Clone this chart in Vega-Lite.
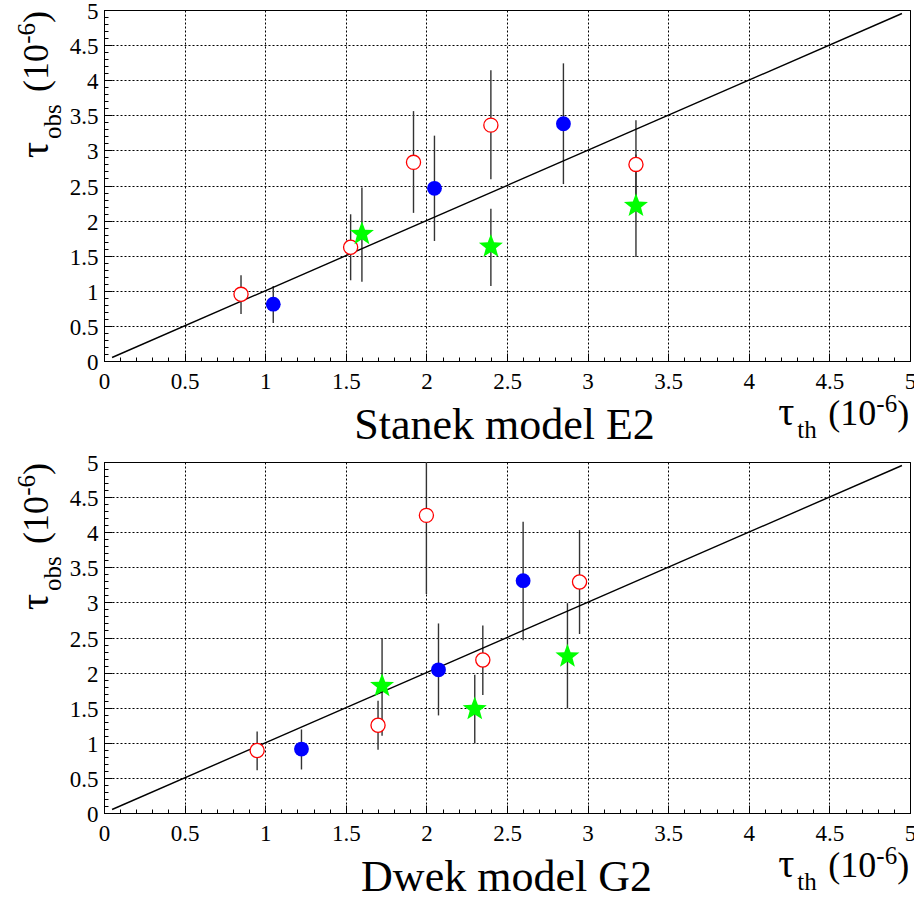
{
  "$schema": "https://vega.github.io/schema/vega-lite/v6.json",
  "background": "white",
  "padding": {"left": 13, "top": 0, "right": 0, "bottom": 0},
  "autosize": {"type": "pad"},
  "spacing": 101,
  "bounds": "flush",
  "datasets": {
    "stanek": [
      {"kind": "red", "th": 0.85, "obs": 0.95, "lo": 0.67, "hi": 1.22},
      {"kind": "red", "th": 1.53, "obs": 1.62, "lo": 1.15, "hi": 2.09},
      {"kind": "red", "th": 1.92, "obs": 2.83, "lo": 2.11, "hi": 3.56},
      {"kind": "red", "th": 2.40, "obs": 3.36, "lo": 2.59, "hi": 4.14},
      {"kind": "red", "th": 3.30, "obs": 2.80, "lo": 2.17, "hi": 3.43},
      {"kind": "blue", "th": 1.05, "obs": 0.81, "lo": 0.54, "hi": 1.07},
      {"kind": "blue", "th": 2.05, "obs": 2.46, "lo": 1.71, "hi": 3.21},
      {"kind": "blue", "th": 2.85, "obs": 3.38, "lo": 2.52, "hi": 4.24},
      {"kind": "green", "th": 1.60, "obs": 1.81, "lo": 1.13, "hi": 2.47},
      {"kind": "green", "th": 2.40, "obs": 1.63, "lo": 1.07, "hi": 2.17},
      {"kind": "green", "th": 3.30, "obs": 2.21, "lo": 1.48, "hi": 2.94}
    ],
    "dwek": [
      {"kind": "red", "th": 0.95, "obs": 0.89, "lo": 0.61, "hi": 1.16},
      {"kind": "red", "th": 1.70, "obs": 1.25, "lo": 0.90, "hi": 1.60},
      {"kind": "red", "th": 2.00, "obs": 4.24, "lo": 3.12, "hi": 5.0},
      {"kind": "red", "th": 2.35, "obs": 2.18, "lo": 1.68, "hi": 2.67},
      {"kind": "red", "th": 2.95, "obs": 3.29, "lo": 2.55, "hi": 4.03},
      {"kind": "blue", "th": 1.225, "obs": 0.91, "lo": 0.62, "hi": 1.19},
      {"kind": "blue", "th": 2.075, "obs": 2.04, "lo": 1.39, "hi": 2.70},
      {"kind": "blue", "th": 2.60, "obs": 3.31, "lo": 2.46, "hi": 4.15},
      {"kind": "green", "th": 1.725, "obs": 1.81, "lo": 1.10, "hi": 2.49},
      {"kind": "green", "th": 2.30, "obs": 1.48, "lo": 0.99, "hi": 1.97},
      {"kind": "green", "th": 2.875, "obs": 2.23, "lo": 1.49, "hi": 2.99}
    ],
    "diag": [{"t": 0.05}, {"t": 4.95}]
  },
  "vconcat": [
    {
      "width": 806,
      "height": 351,
      "resolve": {"axis": {"x": "independent", "y": "independent"}},
      "layer": [
        {
          "data": {"name": "stanek"},
          "transform": [{"filter": "datum.kind === 'red'"}],
          "mark": {"type": "rule", "color": "#333333", "strokeWidth": 1.4},
          "encoding": {
            "x": {"field": "th", "type": "quantitative", "scale": {"domain": [0, 5], "nice": false, "zero": false},
              "axis": {"orient": "bottom", "values": [0, 0.5, 1, 1.5, 2, 2.5, 3, 3.5, 4, 4.5, 5], "format": "~g",
                "grid": true, "gridDash": [2, 2], "gridColor": "black", "gridOpacity": 1, "gridWidth": 1,
                "ticks": false, "domain": true, "domainColor": "black", "domainWidth": 1,
                "labelFontSize": 23, "labelPadding": 9, "labelFlush": false, "labelOverlap": false, "labelBound": false,
                "title": "Stanek model E2", "titleFontSize": 44, "titleX": 400, "titleY": 77, "titleAlign": "center", "titleAngle": 0}},
            "y": {"field": "lo", "type": "quantitative", "scale": {"domain": [0, 5], "nice": false, "zero": false},
              "axis": {"orient": "left", "values": [0, 0.5, 1, 1.5, 2, 2.5, 3, 3.5, 4, 4.5, 5], "format": "~g",
                "grid": true, "gridDash": [2, 2], "gridColor": "black", "gridOpacity": 1, "gridWidth": 1,
                "ticks": false, "domain": true, "domainColor": "black", "domainWidth": 1,
                "labelFontSize": 23, "labelPadding": 6, "labelOffset": 1.5, "labelFlush": false, "labelOverlap": false, "labelBound": false,
                "title": null}},
            "y2": {"field": "hi"}
          }
        },
        {
          "data": {"name": "stanek"},
          "transform": [{"filter": "datum.kind === 'blue'"}],
          "mark": {"type": "rule", "color": "#333333", "strokeWidth": 1.4},
          "encoding": {
            "x": {"field": "th", "type": "quantitative", "scale": {"domain": [0, 5], "nice": false, "zero": false},
              "axis": {"orient": "bottom", "values": [0,0.1,0.2,0.3,0.4,0.5,0.6,0.7,0.8,0.9,1,1.1,1.2,1.3,1.4,1.5,1.6,1.7,1.8,1.9,2,2.1,2.2,2.3,2.4,2.5,2.6,2.7,2.8,2.9,3,3.1,3.2,3.3,3.4,3.5,3.6,3.7,3.8,3.9,4,4.1,4.2,4.3,4.4,4.5,4.6,4.7,4.8,4.9,5],
                "labels": false, "grid": false, "domain": false, "ticks": true, "tickSize": -4, "tickColor": "black", "tickWidth": 1,
                "title": "τ", "titleFontSize": 40, "titleX": 673.7, "titleY": 63, "titleAlign": "left", "titleAngle": 0}},
            "y": {"field": "lo", "type": "quantitative", "scale": {"domain": [0, 5], "nice": false, "zero": false},
              "axis": {"orient": "left", "values": [0,0.1,0.2,0.3,0.4,0.5,0.6,0.7,0.8,0.9,1,1.1,1.2,1.3,1.4,1.5,1.6,1.7,1.8,1.9,2,2.1,2.2,2.3,2.4,2.5,2.6,2.7,2.8,2.9,3,3.1,3.2,3.3,3.4,3.5,3.6,3.7,3.8,3.9,4,4.1,4.2,4.3,4.4,4.5,4.6,4.7,4.8,4.9,5],
                "labels": false, "grid": false, "domain": false, "ticks": true, "tickSize": -4, "tickColor": "black", "tickWidth": 1,
                "title": "τ", "titleFontSize": 40, "titleX": -57, "titleY": 147.5, "titleAlign": "left", "titleAngle": 270}},
            "y2": {"field": "hi"}
          }
        },
        {
          "data": {"name": "stanek"},
          "transform": [{"filter": "datum.kind === 'green'"}],
          "mark": {"type": "rule", "color": "#333333", "strokeWidth": 1.4},
          "encoding": {
            "x": {"field": "th", "type": "quantitative", "scale": {"domain": [0, 5], "nice": false, "zero": false},
              "axis": {"orient": "bottom", "values": [0, 0.5, 1, 1.5, 2, 2.5, 3, 3.5, 4, 4.5, 5],
                "labels": false, "grid": false, "domain": false, "ticks": true, "tickSize": -8, "tickColor": "black", "tickWidth": 1,
                "title": "th", "titleFontSize": 25, "titleX": 692.7, "titleY": 76, "titleAlign": "left", "titleAngle": 0}},
            "y": {"field": "lo", "type": "quantitative", "scale": {"domain": [0, 5], "nice": false, "zero": false},
              "axis": {"orient": "left", "values": [0, 0.5, 1, 1.5, 2, 2.5, 3, 3.5, 4, 4.5, 5],
                "labels": false, "grid": false, "domain": false, "ticks": true, "tickSize": -8, "tickColor": "black", "tickWidth": 1,
                "title": "obs", "titleFontSize": 25, "titleX": -44, "titleY": 128.5, "titleAlign": "left", "titleAngle": 270}},
            "y2": {"field": "hi"}
          }
        },
        {
          "data": {"name": "diag"},
          "mark": {"type": "line", "color": "black", "strokeWidth": 1.4},
          "encoding": {
            "x": {"field": "t", "type": "quantitative", "scale": {"domain": [0, 5], "nice": false, "zero": false},
              "axis": {"orient": "bottom", "labels": false, "grid": false, "domain": false, "ticks": false,
                "title": "(10", "titleFontSize": 36, "titleX": 771.7, "titleY": 63, "titleAlign": "right", "titleAngle": 0}},
            "y": {"field": "t", "type": "quantitative", "scale": {"domain": [0, 5], "nice": false, "zero": false},
              "axis": {"orient": "left", "labels": false, "grid": false, "domain": false, "ticks": false,
                "title": "(10", "titleFontSize": 36, "titleX": -57, "titleY": 33.5, "titleAlign": "right", "titleAngle": 270}}
          }
        },
        {
          "data": {"name": "stanek"},
          "transform": [{"filter": "datum.kind === 'red'"}],
          "mark": {"type": "point", "shape": "circle", "filled": true, "fill": "white", "stroke": "#ff0000", "strokeWidth": 1.3, "size": 200, "opacity": 1},
          "encoding": {
            "x": {"field": "th", "type": "quantitative", "scale": {"domain": [0, 5], "nice": false, "zero": false},
              "axis": {"orient": "bottom", "labels": false, "grid": false, "domain": false, "ticks": false,
                "title": "-6", "titleFontSize": 25, "titleX": 792.7, "titleY": 50, "titleAlign": "right", "titleAngle": 0}},
            "y": {"field": "obs", "type": "quantitative", "scale": {"domain": [0, 5], "nice": false, "zero": false},
              "axis": {"orient": "left", "labels": false, "grid": false, "domain": false, "ticks": false,
                "title": "-6", "titleFontSize": 25, "titleX": -70, "titleY": 12.5, "titleAlign": "right", "titleAngle": 270}}
          }
        },
        {
          "data": {"name": "stanek"},
          "transform": [{"filter": "datum.kind === 'blue'"}],
          "mark": {"type": "point", "shape": "circle", "filled": true, "color": "#0000ff", "size": 220, "opacity": 1},
          "encoding": {
            "x": {"field": "th", "type": "quantitative", "scale": {"domain": [0, 5], "nice": false, "zero": false},
              "axis": {"orient": "bottom", "labels": false, "grid": false, "domain": false, "ticks": false,
                "title": ")", "titleFontSize": 36, "titleX": 804.7, "titleY": 63, "titleAlign": "right", "titleAngle": 0}},
            "y": {"field": "obs", "type": "quantitative", "scale": {"domain": [0, 5], "nice": false, "zero": false},
              "axis": {"orient": "left", "labels": false, "grid": false, "domain": false, "ticks": false,
                "title": ")", "titleFontSize": 36, "titleX": -57, "titleY": 0.5, "titleAlign": "right", "titleAngle": 270}}
          }
        },
        {
          "data": {"name": "stanek"},
          "transform": [{"filter": "datum.kind === 'green'"}],
          "mark": {"type": "point", "shape": "M0,-1L0.247,-0.34L0.951,-0.309L0.4,0.13L0.588,0.809L0,0.42L-0.588,0.809L-0.4,0.13L-0.951,-0.309L-0.247,-0.34Z", "filled": true, "color": "#00ff00", "size": 640, "opacity": 1},
          "encoding": {
            "x": {"field": "th", "type": "quantitative", "scale": {"domain": [0, 5], "nice": false, "zero": false}, "axis": null},
            "y": {"field": "obs", "type": "quantitative", "scale": {"domain": [0, 5], "nice": false, "zero": false}, "axis": null}
          }
        }
      ]
    },
    {
      "width": 806,
      "height": 351,
      "resolve": {"axis": {"x": "independent", "y": "independent"}},
      "layer": [
        {
          "data": {"name": "dwek"},
          "transform": [{"filter": "datum.kind === 'red'"}],
          "mark": {"type": "rule", "color": "#333333", "strokeWidth": 1.4},
          "encoding": {
            "x": {"field": "th", "type": "quantitative", "scale": {"domain": [0, 5], "nice": false, "zero": false},
              "axis": {"orient": "bottom", "values": [0, 0.5, 1, 1.5, 2, 2.5, 3, 3.5, 4, 4.5, 5], "format": "~g",
                "grid": true, "gridDash": [2, 2], "gridColor": "black", "gridOpacity": 1, "gridWidth": 1,
                "ticks": false, "domain": true, "domainColor": "black", "domainWidth": 1,
                "labelFontSize": 23, "labelPadding": 9, "labelFlush": false, "labelOverlap": false, "labelBound": false,
                "title": "Dwek model G2", "titleFontSize": 44, "titleX": 402, "titleY": 77, "titleAlign": "center", "titleAngle": 0}},
            "y": {"field": "lo", "type": "quantitative", "scale": {"domain": [0, 5], "nice": false, "zero": false},
              "axis": {"orient": "left", "values": [0, 0.5, 1, 1.5, 2, 2.5, 3, 3.5, 4, 4.5, 5], "format": "~g",
                "grid": true, "gridDash": [2, 2], "gridColor": "black", "gridOpacity": 1, "gridWidth": 1,
                "ticks": false, "domain": true, "domainColor": "black", "domainWidth": 1,
                "labelFontSize": 23, "labelPadding": 6, "labelOffset": 1.5, "labelFlush": false, "labelOverlap": false, "labelBound": false,
                "title": null}},
            "y2": {"field": "hi"}
          }
        },
        {
          "data": {"name": "dwek"},
          "transform": [{"filter": "datum.kind === 'blue'"}],
          "mark": {"type": "rule", "color": "#333333", "strokeWidth": 1.4},
          "encoding": {
            "x": {"field": "th", "type": "quantitative", "scale": {"domain": [0, 5], "nice": false, "zero": false},
              "axis": {"orient": "bottom", "values": [0,0.1,0.2,0.3,0.4,0.5,0.6,0.7,0.8,0.9,1,1.1,1.2,1.3,1.4,1.5,1.6,1.7,1.8,1.9,2,2.1,2.2,2.3,2.4,2.5,2.6,2.7,2.8,2.9,3,3.1,3.2,3.3,3.4,3.5,3.6,3.7,3.8,3.9,4,4.1,4.2,4.3,4.4,4.5,4.6,4.7,4.8,4.9,5],
                "labels": false, "grid": false, "domain": false, "ticks": true, "tickSize": -4, "tickColor": "black", "tickWidth": 1,
                "title": "τ", "titleFontSize": 40, "titleX": 673.7, "titleY": 63, "titleAlign": "left", "titleAngle": 0}},
            "y": {"field": "lo", "type": "quantitative", "scale": {"domain": [0, 5], "nice": false, "zero": false},
              "axis": {"orient": "left", "values": [0,0.1,0.2,0.3,0.4,0.5,0.6,0.7,0.8,0.9,1,1.1,1.2,1.3,1.4,1.5,1.6,1.7,1.8,1.9,2,2.1,2.2,2.3,2.4,2.5,2.6,2.7,2.8,2.9,3,3.1,3.2,3.3,3.4,3.5,3.6,3.7,3.8,3.9,4,4.1,4.2,4.3,4.4,4.5,4.6,4.7,4.8,4.9,5],
                "labels": false, "grid": false, "domain": false, "ticks": true, "tickSize": -4, "tickColor": "black", "tickWidth": 1,
                "title": "τ", "titleFontSize": 40, "titleX": -57, "titleY": 147.5, "titleAlign": "left", "titleAngle": 270}},
            "y2": {"field": "hi"}
          }
        },
        {
          "data": {"name": "dwek"},
          "transform": [{"filter": "datum.kind === 'green'"}],
          "mark": {"type": "rule", "color": "#333333", "strokeWidth": 1.4},
          "encoding": {
            "x": {"field": "th", "type": "quantitative", "scale": {"domain": [0, 5], "nice": false, "zero": false},
              "axis": {"orient": "bottom", "values": [0, 0.5, 1, 1.5, 2, 2.5, 3, 3.5, 4, 4.5, 5],
                "labels": false, "grid": false, "domain": false, "ticks": true, "tickSize": -8, "tickColor": "black", "tickWidth": 1,
                "title": "th", "titleFontSize": 25, "titleX": 692.7, "titleY": 76, "titleAlign": "left", "titleAngle": 0}},
            "y": {"field": "lo", "type": "quantitative", "scale": {"domain": [0, 5], "nice": false, "zero": false},
              "axis": {"orient": "left", "values": [0, 0.5, 1, 1.5, 2, 2.5, 3, 3.5, 4, 4.5, 5],
                "labels": false, "grid": false, "domain": false, "ticks": true, "tickSize": -8, "tickColor": "black", "tickWidth": 1,
                "title": "obs", "titleFontSize": 25, "titleX": -44, "titleY": 128.5, "titleAlign": "left", "titleAngle": 270}},
            "y2": {"field": "hi"}
          }
        },
        {
          "data": {"name": "diag"},
          "mark": {"type": "line", "color": "black", "strokeWidth": 1.4},
          "encoding": {
            "x": {"field": "t", "type": "quantitative", "scale": {"domain": [0, 5], "nice": false, "zero": false},
              "axis": {"orient": "bottom", "labels": false, "grid": false, "domain": false, "ticks": false,
                "title": "(10", "titleFontSize": 36, "titleX": 771.7, "titleY": 63, "titleAlign": "right", "titleAngle": 0}},
            "y": {"field": "t", "type": "quantitative", "scale": {"domain": [0, 5], "nice": false, "zero": false},
              "axis": {"orient": "left", "labels": false, "grid": false, "domain": false, "ticks": false,
                "title": "(10", "titleFontSize": 36, "titleX": -57, "titleY": 33.5, "titleAlign": "right", "titleAngle": 270}}
          }
        },
        {
          "data": {"name": "dwek"},
          "transform": [{"filter": "datum.kind === 'red'"}],
          "mark": {"type": "point", "shape": "circle", "filled": true, "fill": "white", "stroke": "#ff0000", "strokeWidth": 1.3, "size": 200, "opacity": 1},
          "encoding": {
            "x": {"field": "th", "type": "quantitative", "scale": {"domain": [0, 5], "nice": false, "zero": false},
              "axis": {"orient": "bottom", "labels": false, "grid": false, "domain": false, "ticks": false,
                "title": "-6", "titleFontSize": 25, "titleX": 792.7, "titleY": 50, "titleAlign": "right", "titleAngle": 0}},
            "y": {"field": "obs", "type": "quantitative", "scale": {"domain": [0, 5], "nice": false, "zero": false},
              "axis": {"orient": "left", "labels": false, "grid": false, "domain": false, "ticks": false,
                "title": "-6", "titleFontSize": 25, "titleX": -70, "titleY": 12.5, "titleAlign": "right", "titleAngle": 270}}
          }
        },
        {
          "data": {"name": "dwek"},
          "transform": [{"filter": "datum.kind === 'blue'"}],
          "mark": {"type": "point", "shape": "circle", "filled": true, "color": "#0000ff", "size": 220, "opacity": 1},
          "encoding": {
            "x": {"field": "th", "type": "quantitative", "scale": {"domain": [0, 5], "nice": false, "zero": false},
              "axis": {"orient": "bottom", "labels": false, "grid": false, "domain": false, "ticks": false,
                "title": ")", "titleFontSize": 36, "titleX": 804.7, "titleY": 63, "titleAlign": "right", "titleAngle": 0}},
            "y": {"field": "obs", "type": "quantitative", "scale": {"domain": [0, 5], "nice": false, "zero": false},
              "axis": {"orient": "left", "labels": false, "grid": false, "domain": false, "ticks": false,
                "title": ")", "titleFontSize": 36, "titleX": -57, "titleY": 0.5, "titleAlign": "right", "titleAngle": 270}}
          }
        },
        {
          "data": {"name": "dwek"},
          "transform": [{"filter": "datum.kind === 'green'"}],
          "mark": {"type": "point", "shape": "M0,-1L0.247,-0.34L0.951,-0.309L0.4,0.13L0.588,0.809L0,0.42L-0.588,0.809L-0.4,0.13L-0.951,-0.309L-0.247,-0.34Z", "filled": true, "color": "#00ff00", "size": 640, "opacity": 1},
          "encoding": {
            "x": {"field": "th", "type": "quantitative", "scale": {"domain": [0, 5], "nice": false, "zero": false}, "axis": null},
            "y": {"field": "obs", "type": "quantitative", "scale": {"domain": [0, 5], "nice": false, "zero": false}, "axis": null}
          }
        }
      ]
    }
  ],
  "config": {
    "font": "Liberation Serif, Times New Roman, serif",
    "view": {"stroke": "black", "strokeWidth": 1},
    "axis": {
      "labelFont": "Liberation Serif, Times New Roman, serif",
      "labelColor": "black",
      "titleFont": "Liberation Serif, Times New Roman, serif",
      "titleFontWeight": "normal",
      "titleColor": "black",
      "titleLimit": 2000,
      "titleBaseline": "alphabetic",
      "titlePadding": 0
    }
  }
}
